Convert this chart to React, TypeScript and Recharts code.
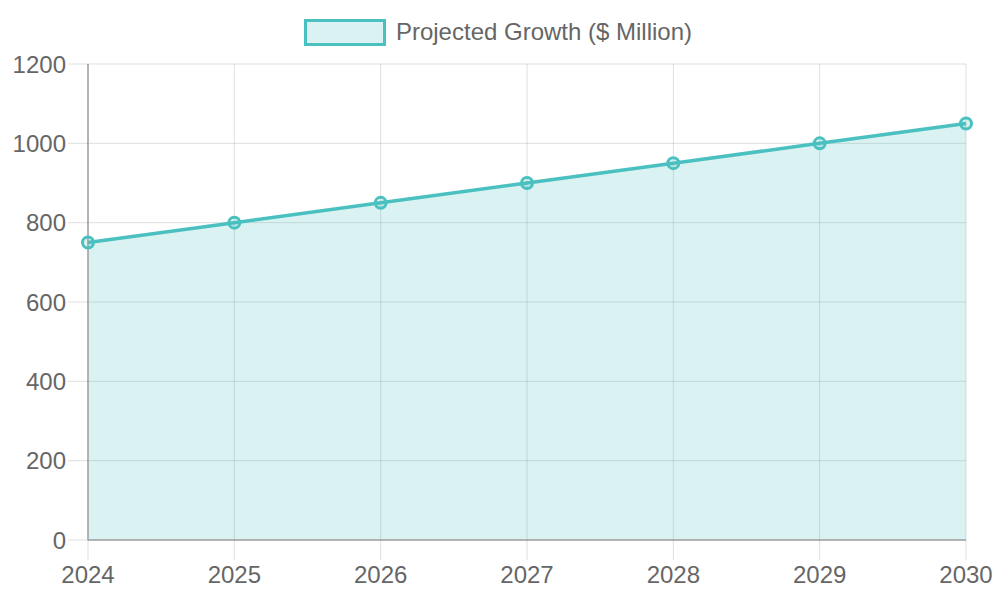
import React from 'react';
import { AreaChart, Area, XAxis, YAxis, CartesianGrid, Legend } from 'recharts';

const years = ['2024', '2025', '2026', '2027', '2028', '2029', '2030'];
const growth = [750, 800, 850, 900, 950, 1000, 1050];
const yTicks = [0, 200, 400, 600, 800, 1000, 1200];
const seriesName = 'Projected Growth ($ Million)';

const data = years.map((y, i) => ({ year: y, value: growth[i] }));

const COLOR = '#4BC0C0';
const FILL = 'rgba(75,192,192,0.2)';
const FONT = '"Liberation Sans", Arial, Helvetica, sans-serif';

const LegendContent = () => (
  <div
    style={{
      display: 'flex',
      justifyContent: 'center',
      alignItems: 'center',
      fontFamily: FONT,
      fontSize: 24,
      color: '#666',
      height: 28,
      transform: 'translateX(-2px)',
    }}
  >
    <div
      style={{
        width: 76,
        height: 21,
        border: `3px solid ${COLOR}`,
        background: FILL,
        marginRight: 10,
      }}
    />
    <span>{seriesName}</span>
  </div>
);

export default function App() {
  return (
    <div style={{ position: 'absolute', left: 0, top: 0, width: 1000, height: 600, background: '#fff' }}>
      <AreaChart
        width={1000}
        height={600}
        data={data}
        margin={{ top: 36, right: 34, left: 0, bottom: 0 }}
      >
        <CartesianGrid stroke="rgba(0,0,0,0.13)" strokeWidth={1} />
        <Legend
          verticalAlign="top"
          align="center"
          content={<LegendContent />}
          wrapperStyle={{ top: 18, left: 0, width: 1000 }}
        />
        <XAxis
          dataKey="year"
          height={60}
          tickSize={20}
          tickMargin={6}
          tick={{ fill: '#666', fontSize: 24, fontFamily: FONT }}
          tickLine={{ stroke: 'rgba(0,0,0,0.13)' }}
          axisLine={{ stroke: '#a0a0a0', strokeWidth: 1.5 }}
          interval={0}
        />
        <YAxis
          width={88}
          domain={[0, 1200]}
          ticks={yTicks}
          tickSize={20}
          tickMargin={2}
          tick={{ fill: '#666', fontSize: 24, fontFamily: FONT }}
          tickLine={{ stroke: 'rgba(0,0,0,0.13)' }}
          axisLine={{ stroke: '#a0a0a0', strokeWidth: 1.5 }}
        />
        <Area
          type="linear"
          dataKey="value"
          name={seriesName}
          stroke={COLOR}
          strokeWidth={3.5}
          fill={FILL}
          fillOpacity={1}
          dot={{ r: 5.5, stroke: COLOR, strokeWidth: 3, fill: FILL, fillOpacity: 1 }}
          activeDot={false}
          isAnimationActive={false}
        />
      </AreaChart>
    </div>
  );
}
